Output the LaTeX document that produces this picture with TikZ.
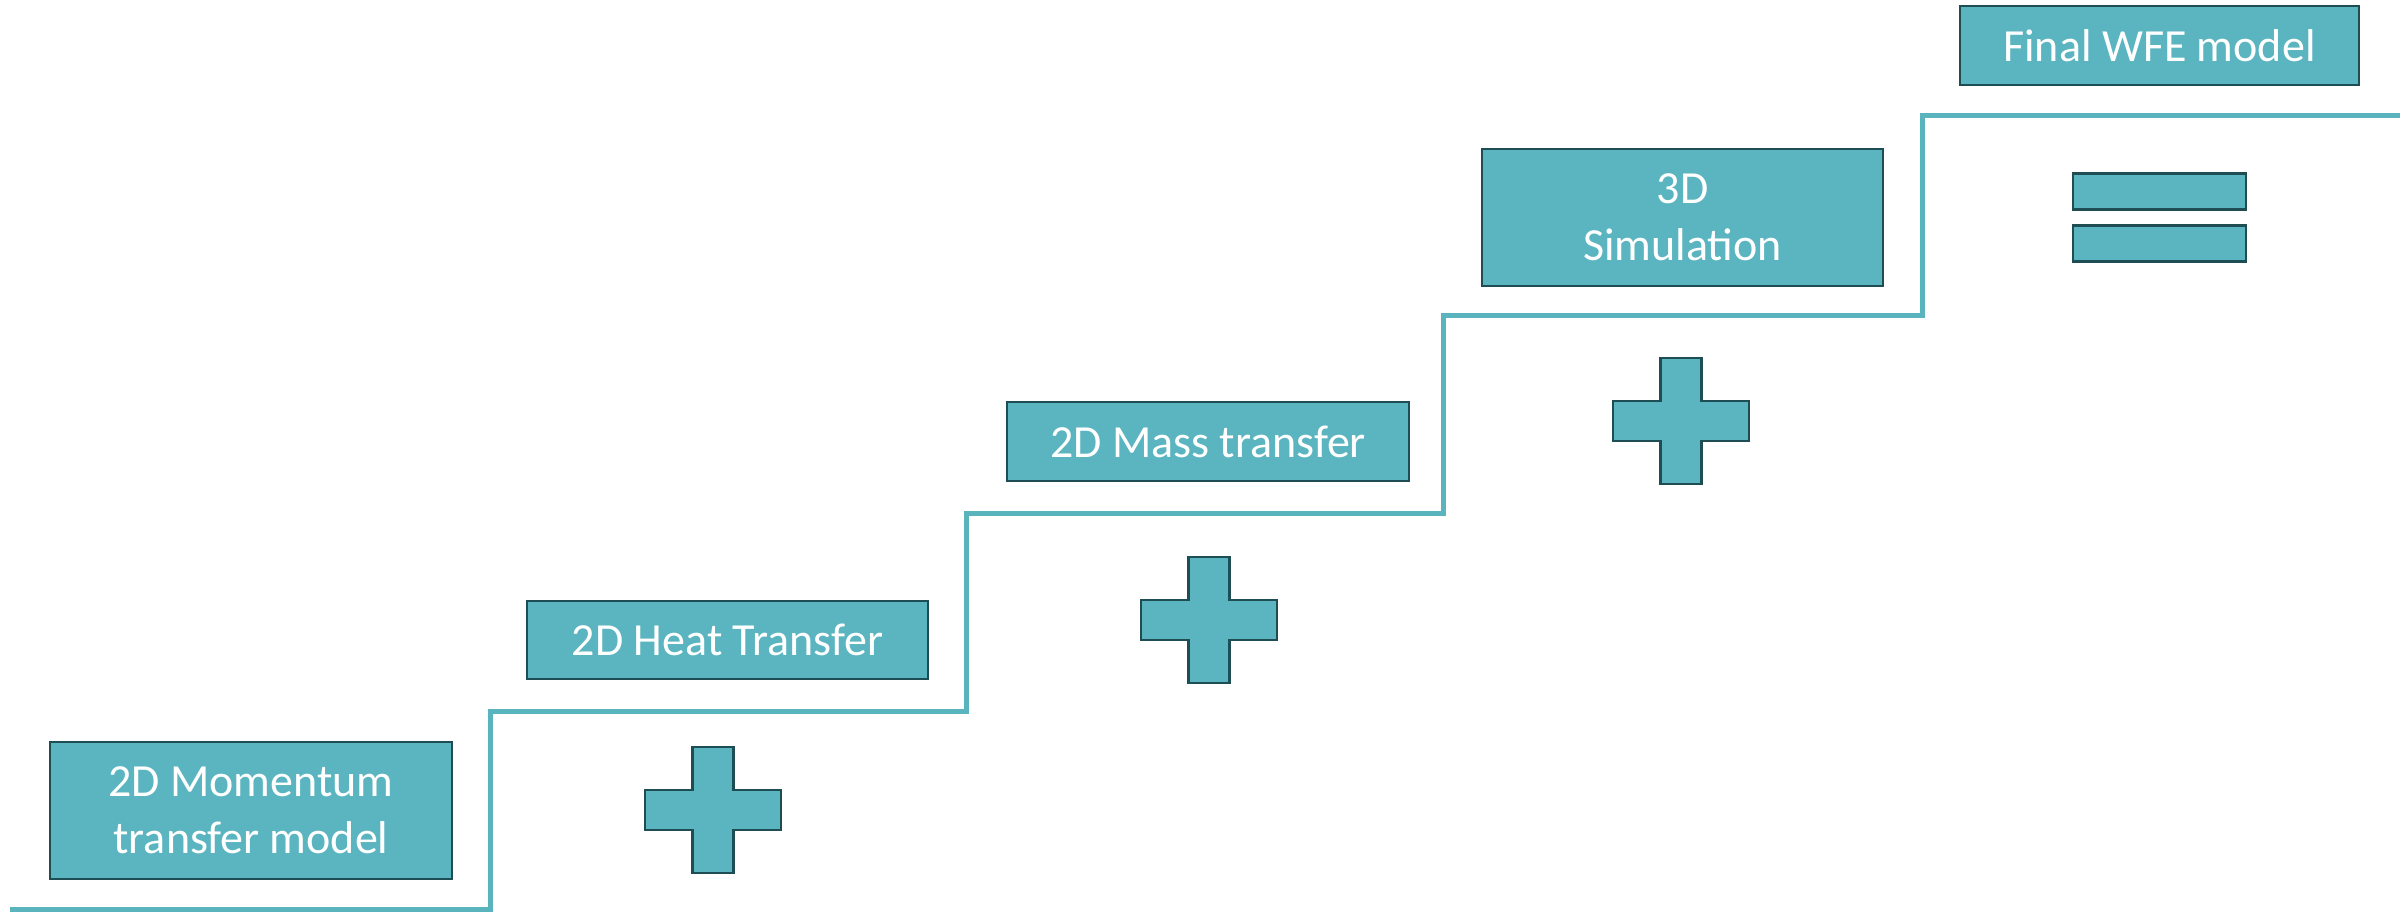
\documentclass[tikz,border=0pt]{standalone}
\usepackage{fontspec}
\setmainfont{Carlito}
\definecolor{tealfill}{HTML}{5BB5C0}
\definecolor{tealline}{HTML}{5AB4BE}
\definecolor{darkedge}{HTML}{1F4D54}
\tikzset{
  stepbox/.style={draw=darkedge, line width=2.8pt, fill=tealfill, text=white,
    inner sep=0pt, align=center, font=\fontsize{46}{57}\selectfont},
  shapestyle/.style={draw=darkedge, line width=2.8pt, fill=tealfill},
  stairline/.style={draw=tealline, line width=5pt, line join=miter},
  stairshadow/.style={draw=black!45, line width=5pt, opacity=0.35},
  plussign/.pic={\path[shapestyle] (-20.5,-63) -- (20.5,-63) -- (20.5,-20) -- (68,-20) -- (68,20) -- (20.5,20) -- (20.5,63) -- (-20.5,63) -- (-20.5,20) -- (-68,20) -- (-68,-20) -- (-20.5,-20) -- cycle;}
}
\begin{document}
\begin{tikzpicture}[x=1pt,y=-1pt]
\useasboundingbox (0,0) rectangle (2407,913);
% stair coordinates
\coordinate (s0) at (10,909);
\coordinate (s1) at (490,909);
\coordinate (s2) at (490,711);
\coordinate (s3) at (966,711);
\coordinate (s4) at (966,513);
\coordinate (s5) at (1443,513);
\coordinate (s6) at (1443,315);
\coordinate (s7) at (1922,315);
\coordinate (s8) at (1922,115);
\coordinate (s9) at (2400,115);
\begin{scope}[shift={(3,3)}]
\draw[stairshadow] (s0) -- (s1) -- (s2) -- (s3) -- (s4) -- (s5) -- (s6) -- (s7) -- (s8) -- (s9);
\end{scope}
\draw[stairline] (s0) -- (s1) -- (s2) -- (s3) -- (s4) -- (s5) -- (s6) -- (s7) -- (s8) -- (s9);
% boxes
\node[stepbox, minimum width=402pt, minimum height=137pt] (momentum) at (251,810.5) {2D Momentum\\transfer model};
\node[stepbox, minimum width=401pt, minimum height=78pt] (heat) at (727.5,640) {2D Heat Transfer};
\node[stepbox, minimum width=402pt, minimum height=79pt] (mass) at (1208,441.5) {2D Mass transfer};
\node[stepbox, minimum width=401pt, minimum height=137pt] (sim) at (1682.5,217.5) {3D\\Simulation};
\node[stepbox, minimum width=399pt, minimum height=79pt] (final) at (2159.5,45.5) {Final WFE model};
% plus signs
\pic (plusA) at (713,810) {plussign};
\pic (plusB) at (1209,620) {plussign};
\pic (plusC) at (1681,421) {plussign};
% equals sign
\node[shapestyle, minimum width=173pt, minimum height=36pt, inner sep=0pt] (eqtop) at (2159.5,191.5) {};
\node[shapestyle, minimum width=173pt, minimum height=36pt, inner sep=0pt] (eqbot) at (2159.5,243.5) {};
\end{tikzpicture}
\end{document}
